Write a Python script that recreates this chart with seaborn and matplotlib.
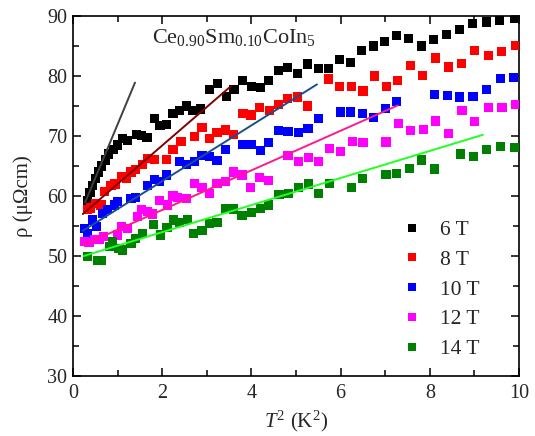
import numpy as np
import pandas as pd
import matplotlib
matplotlib.use("Agg")
import matplotlib.pyplot as plt
from matplotlib.lines import Line2D
from matplotlib.ticker import MultipleLocator
import seaborn as sns

# ---------------- data ----------------
fields = ["6 T", "8 T", "10 T", "12 T", "14 T"]
colors = ["#000000", "#ff0000", "#0000ff", "#ff00ff", "#008000"]

x_6T = [0.33, 0.38, 0.44, 0.50, 0.57, 0.64, 0.72, 0.80, 0.90, 1.00, 1.11, 1.22, 1.43, 1.54, 1.66,
        1.82, 1.95, 2.09, 2.24, 2.39, 2.55, 2.68, 2.86, 3.06, 3.24, 3.45, 3.61, 3.80, 4.00, 4.21,
        4.39, 4.61, 4.81, 5.04, 5.26, 5.51, 5.73, 5.98, 6.23, 6.47, 6.74, 6.99, 7.26, 7.53, 7.82,
        8.09, 8.38, 8.67, 8.96, 9.27, 9.57, 9.90]
y_6T = [59.3, 60.6, 61.8, 62.9, 64.0, 65.0, 66.0, 67.0, 67.8, 68.5, 69.6, 69.3, 70.3, 70.1, 69.8,
        72.9, 71.8, 71.9, 73.8, 74.2, 75.0, 74.3, 74.5, 77.8, 78.7, 76.6, 77.8, 79.3, 78.2, 78.1,
        79.2, 80.9, 81.4, 80.4, 82.0, 81.2, 81.2, 82.8, 82.2, 84.2, 85.0, 85.7, 86.7, 86.2, 85.0,
        86.1, 86.9, 87.7, 88.7, 89.0, 89.3, 89.6]

x_8T = [0.33, 0.40, 0.50, 0.63, 0.70, 0.85, 0.94, 1.08, 1.20, 1.30, 1.41, 1.55, 1.67, 1.82, 2.09,
        2.24, 2.42, 2.72, 2.89, 3.06, 3.23, 3.42, 3.60, 3.81, 3.99, 4.19, 4.41, 4.61, 4.81, 5.04,
        5.26, 5.73, 5.98, 6.25, 6.50, 6.76, 7.03, 7.28, 7.57, 7.84, 8.13, 8.42, 8.71, 9.01, 9.32,
        9.61, 9.93]
y_8T = [57.7, 58.0, 58.7, 58.5, 60.7, 61.7, 62.0, 63.3, 63.0, 64.0, 64.4, 65.3, 66.3, 66.1, 66.1,
        67.8, 69.05, 69.9, 71.4, 69.6, 70.6, 71.0, 70.3, 73.8, 73.5, 74.7, 74.2, 75.2, 76.2, 76.5,
        75.0, 79.5, 78.2, 78.3, 77.5, 80.0, 78.2, 79.3, 81.8, 80.1, 83.0, 81.5, 82.1, 84.25, 83.45,
        84.05, 85.1]

x_10T = [0.26, 0.33, 0.44, 0.52, 0.67, 0.78, 0.93, 1.00, 1.30, 1.41, 1.67, 1.82, 1.94, 2.09, 2.39,
         2.54, 2.72, 2.89, 3.06, 3.23, 3.42, 3.81, 4.00, 4.20, 4.39, 4.60, 4.82, 5.05, 5.27, 5.50,
         6.00, 6.23, 6.49, 6.74, 7.00, 7.26, 8.10, 8.39, 8.67, 8.97, 9.28, 9.58, 9.88]
y_10T = [54.6, 53.8, 56.0, 54.9, 57.1, 57.7, 58.5, 59.1, 59.6, 59.8, 61.7, 62.7, 62.4, 63.5, 65.7,
         65.3, 65.7, 66.7, 66.6, 65.9, 67.8, 68.6, 68.6, 67.55, 68.9, 70.95, 70.8, 70.55, 71.2, 72.9,
         74.0, 74.0, 73.7, 73.05, 74.55, 75.8, 76.9, 76.7, 76.5, 76.55, 77.7, 79.55, 79.7]

x_12T = [0.26, 0.36, 0.48, 0.59, 0.68, 1.00, 1.08, 1.23, 1.45, 1.53, 1.67, 1.79, 1.94, 2.12, 2.24,
         2.35, 2.54, 2.72, 2.89, 3.06, 3.23, 3.42, 3.60, 3.79, 3.98, 4.19, 4.39, 4.82, 5.05, 5.28,
         5.51, 5.75, 5.99, 6.26, 6.50, 7.02, 7.30, 7.57, 7.85, 8.13, 8.42, 8.72, 9.00, 9.31, 9.62,
         9.93]
y_12T = [52.4, 52.2, 52.7, 52.8, 53.2, 53.5, 54.9, 54.6, 56.6, 57.7, 57.4, 57.0, 59.3, 58.5, 60.0,
         59.8, 59.6, 62.1, 61.4, 60.4, 62.1, 62.4, 64.0, 63.5, 61.4, 63.05, 62.55, 66.8, 65.7, 66.45,
         65.8, 67.95, 67.4, 69.05, 68.9, 69.0, 72.05, 70.95, 71.1, 72.5, 70.4, 74.2, 72.45, 74.7, 74.7,
         75.3]

x_14T = [0.33, 0.55, 0.63, 0.82, 0.89, 1.03, 1.11, 1.30, 1.41, 1.56, 1.81, 1.96, 2.11, 2.25, 2.39,
         2.56, 2.71, 2.89, 3.06, 3.23, 3.42, 3.60, 3.79, 4.00, 4.20, 4.39, 4.62, 4.84, 5.05, 5.28,
         5.51, 5.75, 6.24, 6.49, 7.02, 7.26, 7.54, 7.82, 8.10, 8.69, 8.98, 9.28, 9.58, 9.90]
y_14T = [49.9, 49.3, 49.3, 51.6, 52.4, 51.3, 51.0, 52.1, 52.9, 53.7, 55.2, 53.5, 54.8, 56.0, 55.6,
         56.1, 53.8, 54.2, 55.4, 55.6, 57.9, 57.85, 56.8, 57.3, 57.95, 58.5, 60.3, 60.45, 61.4, 62.0,
         60.45, 62.1, 61.4, 62.95, 63.6, 63.7, 64.55, 66.0, 64.5, 67.0, 66.55, 67.7, 68.2, 68.1]

# linear T^2 fits: endpoints (x0, x1) and (y0, y1)
fit_colors = ["#404040", "#800000", "#1a4f8a", "#ff1a8c", "#22ff22"]
fit_x0 = [0.27, 0.22, 0.22, 0.22, 0.24]
fit_x1 = [1.39, 3.54, 5.47, 7.28, 9.19]
fit_y0 = [58.9, 57.0, 54.2, 51.8, 50.0]
fit_y1 = [78.9, 78.3, 78.6, 75.1, 70.2]

title_text = r"Ce$_{0.90}$Sm$_{0.10}$CoIn$_{5}$"

# ---------------- build table ----------------
xs = [x_6T, x_8T, x_10T, x_12T, x_14T]
ys = [y_6T, y_8T, y_10T, y_12T, y_14T]
df = pd.concat([pd.DataFrame({"T2": x, "rho": y, "field": f}) for x, y, f in zip(xs, ys, fields)],
               ignore_index=True)

# ---------------- style ----------------
sns.set_theme(style="ticks")
plt.rcParams["font.family"] = ["Liberation Serif", "DejaVu Serif"]
plt.rcParams["mathtext.fontset"] = "custom"
plt.rcParams["mathtext.rm"] = "Liberation Serif"
plt.rcParams["mathtext.it"] = "Liberation Serif:italic"
plt.rcParams["mathtext.bf"] = "Liberation Serif:bold"

fig = plt.figure(figsize=(5.35, 4.36), dpi=100)
ax = fig.add_axes([73 / 535, 60 / 436, 446 / 535, 360 / 436])

sns.scatterplot(data=df, x="T2", y="rho", hue="field", hue_order=fields,
                palette=dict(zip(fields, colors)), marker="s", s=44, linewidth=0,
                legend=False, ax=ax, zorder=3)

for c, a, b, p, q in zip(fit_colors, fit_x0, fit_x1, fit_y0, fit_y1):
    ax.plot([a, b], [p, q], color=c, lw=1.4, zorder=4)

ax.set_xlim(0, 10)
ax.set_ylim(30, 90)
ax.xaxis.set_major_locator(MultipleLocator(2))
ax.xaxis.set_minor_locator(MultipleLocator(1))
ax.yaxis.set_major_locator(MultipleLocator(10))
ax.yaxis.set_minor_locator(MultipleLocator(5))
ax.tick_params(which="both", direction="in", top=True, right=True, labelsize=14.5,
               width=1.1, color="black")
ax.tick_params(axis="x", pad=6)
ax.tick_params(axis="y", pad=4)
ax.tick_params(which="major", length=6)
ax.tick_params(which="minor", length=4)
for s in ax.spines.values():
    s.set_linewidth(1.2)
    s.set_color("black")

ax.set_xlabel(r"$T^2$ (K$^2$)", fontsize=15, labelpad=4)
ax.set_ylabel("ρ (μΩcm)", fontsize=15, labelpad=10)

ax.text(3.6, 85.5, title_text, fontsize=16, ha="center", va="baseline")

handles = [Line2D([], [], ls="none", marker="s", markersize=5.5, color=c, markeredgewidth=0)
           for c in colors]
ax.legend(handles, fields, loc="upper left", bbox_to_anchor=(0.735, 0.433), frameon=False,
          fontsize=15.5, handlelength=1.0, handletextpad=0.8, labelspacing=0.45,
          borderpad=0, borderaxespad=0)

fig.savefig("out.png", dpi=100)
